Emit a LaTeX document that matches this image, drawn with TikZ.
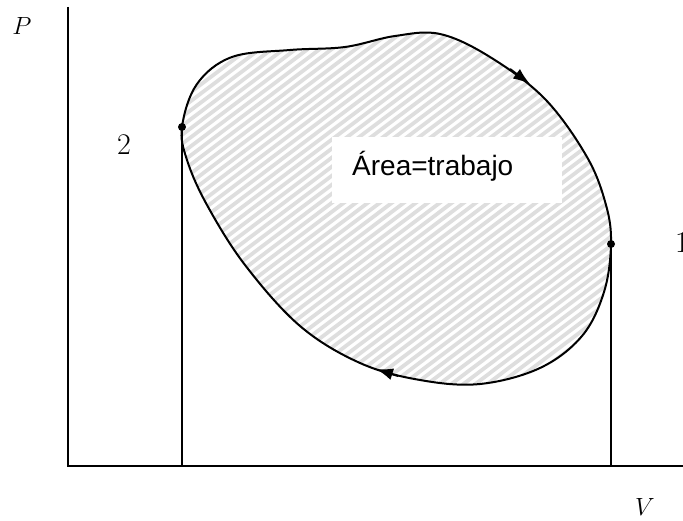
\documentclass[tikz,border=0pt]{standalone}
\usepackage{fontspec}
\newfontfamily\arialfont{Liberation Sans}
\usetikzlibrary{arrows.meta}
\tikzset{
  axisline/.style={line width=1.8pt, black},
  dropline/.style={line width=1.6pt, black},
  cycleline/.style={line width=2pt, black},
  stripe/.style={line width=3.8pt, color=black!13},
  dotpt/.style={circle, fill=black, inner sep=0pt, minimum size=8pt},
  numlabel/.style={font=\fontsize{30}{34}\selectfont, inner sep=0pt},
  varlabel/.style={font=\fontsize{31}{34}\selectfont, inner sep=0pt},
  tiparrow/.style={-{Latex[length=17pt,width=12pt]}, line width=2pt}
}
\begin{document}
\begin{tikzpicture}[x=1pt,y=-1pt]
\useasboundingbox (0,0) rectangle (683,521);
% cycle path
\def\cyclepath{plot[smooth cycle, tension=0.6] coordinates {
 (182,127) (197,84) (232,57) (290,50) (345,47) (395,36) (440,34) (490,57)
 (545,99) (587,157) (606,205) (611,244) (604,292) (582,336) (540,368)
 (480,384) (420,380) (360,363) (300,326) (245,265) (207,205) (187,160)}}
\begin{scope}
  \clip \cyclepath;
  \foreach \c in {-720,-708,...,720} {
    \draw[stripe] (\c,480) -- ++(637,-480);
  }
\end{scope}
\draw[cycleline] \cyclepath;
% white text box
\fill[white] (332,137) rectangle (562,203);
\node[anchor=base west, inner sep=0pt, font=\arialfont\fontsize{28}{30}\selectfont] (txt) at (352,176) {Área=trabajo};
% arrows on the cycle
\coordinate (a1s) at (510,69);
\coordinate (a1e) at (530,84);
\draw[tiparrow] (a1s) -- (a1e);
\coordinate (a2s) at (398,376);
\coordinate (a2e) at (376,369);
\draw[tiparrow] (a2s) -- (a2e);
% axes
\coordinate (origin) at (68,466);
\coordinate (ytop) at (68,7);
\coordinate (xend) at (683,466);
\draw[axisline] (ytop) -- (origin) -- (xend);
% states
\node[dotpt] (p2) at (182,127) {};
\node[dotpt] (p1) at (611,244) {};
\coordinate (b2) at (182,466);
\coordinate (b1) at (611,466);
\draw[dropline] (p2.center) -- (b2);
\draw[dropline] (p1.center) -- (b1);
% labels
\node[varlabel] (P) at (22,26) {$P$};
\node[varlabel] (V) at (645,507) {$V$};
\node[numlabel] (l2) at (124,145) {2};
\node[numlabel, anchor=west] (l1) at (675,243) {1};
\end{tikzpicture}
\end{document}
